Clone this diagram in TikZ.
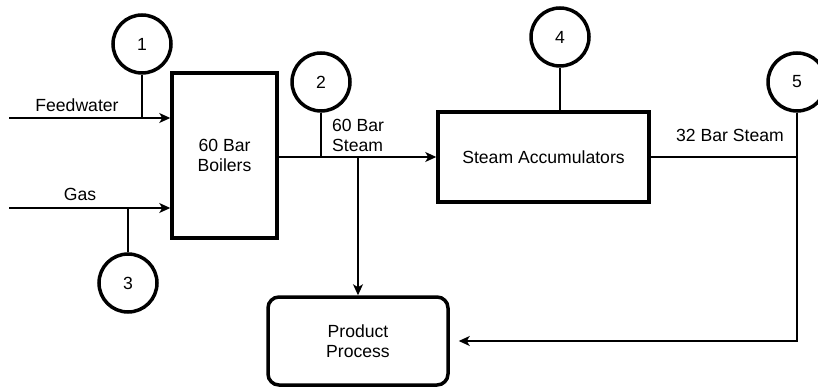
\documentclass[tikz,border=0pt]{standalone}
\usepackage{fontspec}
\setmainfont{Liberation Sans}
\usetikzlibrary{arrows.meta, calc}

\tikzset{
  unit/.style={draw, line width=3.5pt, align=center, inner sep=0pt},
  tag/.style={draw, circle, line width=3.5pt, minimum size=58pt, inner sep=0pt},
  flow/.style={line width=1.3pt, -{Stealth[length=11pt, width=10pt, inset=3pt]}},
  pipe/.style={line width=1.3pt},
  lbl/.style={align=left, inner sep=0pt}
}

\begin{document}
\begin{tikzpicture}[x=1pt, y=-1pt, font=\fontsize{17.6}{20}\selectfont]

\useasboundingbox (0,0) rectangle (818,387);

% units
\node[unit, minimum width=105pt, minimum height=165pt] (boilers) at (224.5,155.5) {60 Bar\\Boilers};
\node[unit, minimum width=211pt, minimum height=90pt] (accum) at (543.5,157) {Steam Accumulators};
\node[unit, rounded corners=11pt, minimum width=180pt, minimum height=88pt] (product) at (358,341) {Product\\Process};

% measurement points
\node[tag] (t1) at (142,44) {1};
\node[tag] (t2) at (321,82) {2};
\node[tag] (t3) at (128,283) {3};
\node[tag] (t4) at (560,37) {4};
\node[tag] (t5) at (797,82) {5};

% inputs
\coordinate (feed) at (9,118);
\coordinate (gas) at (9,208);
\draw[flow] (feed) -- (feed -| boilers.west);
\draw[flow] (gas) -- (gas -| boilers.west);
\draw[pipe] (t1.south) -- (t1.south |- feed);
\draw[pipe] (t3.north) -- (t3.north |- gas);
\node[lbl] (feedlbl) at (77,105) {Feedwater};
\node[lbl] (gaslbl) at (80,194) {Gas};

% 60 bar steam
\draw[flow] (boilers.east |- accum.west) -- (accum.west);
\draw[pipe] (t2.south) -- (t2.south |- accum.west);
\draw[flow] (product.north |- accum.west) -- (product.north);
\node[lbl, anchor=west] (hplbl) at (332,135) {60 Bar\\Steam};

% 32 bar steam
\draw[pipe] (t4.south) -- (t4.south |- accum.north);
\draw[pipe] (accum.east) -- (accum.east -| t5.south);
\draw[flow, shorten >=9pt] (t5.south) |- (product.east);
\node[lbl] (lplbl) at (730,135) {32 Bar Steam};

\end{tikzpicture}
\end{document}
